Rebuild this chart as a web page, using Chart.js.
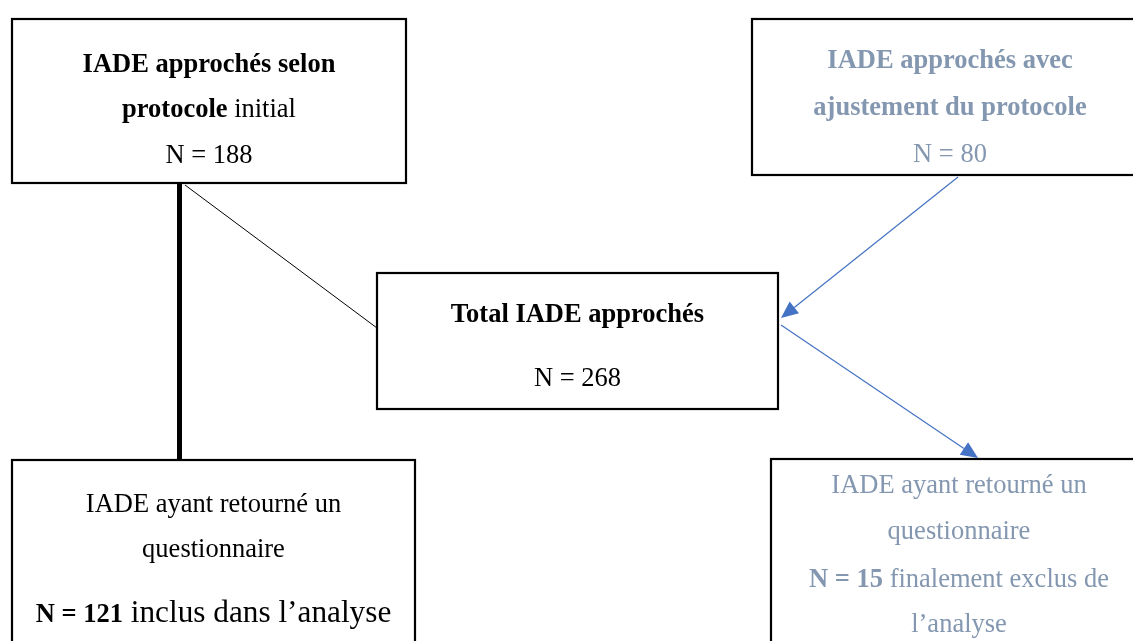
<!DOCTYPE html>
<html>
<head>
<meta charset="utf-8">
<script src="https://cdn.jsdelivr.net/npm/chart.js@4"></script>
<style>
  body { margin: 0; background: #fff; }
  #flow { display: block; }
</style>
</head>
<body>
<canvas id="flow" width="1133" height="641"></canvas>
<script>
// flowchart content
const nodeIds = ['initial', 'ajuste', 'total', 'inclus', 'exclus'];
const nodeCounts = [188, 80, 268, 121, 15];
const nodeLabels = [
    [[['IADE approchés selon', true]], [['protocole', true], [' initial', false]], [['N = ' + nodeCounts[0], false]]],
    [[['IADE approchés avec', true]], [['ajustement du protocole', true]], [['N = ' + nodeCounts[1], false]]],
    [[['Total IADE approchés', true]], [['N = ' + nodeCounts[2], false]]],
    [[['IADE ayant retourné un', false]], [['questionnaire', false]], [['N = ' + nodeCounts[3], true], [' inclus dans l’analyse', false, 1.18]]],
    [[['IADE ayant retourné un', false]], [['questionnaire', false]], [['N = ' + nodeCounts[4], true], [' finalement exclus de', false]], [['l’analyse', false]]]
];
// links between nodes: [from, to, kind]
const links = [
    ['initial', 'inclus', 'thick'],
    ['initial', 'total', 'thin'],
    ['ajuste', 'total', 'arrow'],
    ['total', 'exclus', 'arrow']
];

// layout (in axis units, 0..1133 x 0..641)
const layout = {
    initial: { x: 12, y: 19, w: 394, h: 164, lines: [72, 117, 163], color: '#000' },
    ajuste:  { x: 752, y: 19, w: 396, h: 156, lines: [68, 115, 162], color: '#8497b0' },
    total:   { x: 377, y: 273, w: 401, h: 136, lines: [322, 386], color: '#000' },
    inclus:  { x: 12, y: 460, w: 403, h: 200, lines: [512, 557, 622], color: '#000' },
    exclus:  { x: 771, y: 459, w: 376, h: 200, lines: [493, 539, 587, 632], color: '#8497b0' }
};
const linkPaths = {
    'initial-inclus': [[179.5, 183], [179.5, 460]],
    'initial-total': [[185, 185], [377, 328]],
    'ajuste-total': [[958, 177], [781, 318]],
    'total-exclus': [[781, 325], [978, 458]]
};

const fontSize = 26.5;
const fontFamily = '"Liberation Serif", "Times New Roman", serif';

function fontFor(bold, scale) {
    return (bold ? 'bold ' : '') + (fontSize * (scale || 1)) + 'px ' + fontFamily;
}

const flowPlugin = {
    id: 'flow',
    afterDraw(chart) {
        const ctx = chart.ctx;
        const xs = chart.scales.x, ys = chart.scales.y;
        const px = v => xs.getPixelForValue(v);
        const py = v => ys.getPixelForValue(v);
        ctx.save();

        // connectors
        links.forEach(([from, to, kind]) => {
            const p = linkPaths[from + '-' + to];
            const x1 = px(p[0][0]), y1 = py(p[0][1]), x2 = px(p[1][0]), y2 = py(p[1][1]);
            ctx.beginPath();
            if (kind === 'thick') {
                ctx.strokeStyle = '#000';
                ctx.lineWidth = 5;
            } else if (kind === 'thin') {
                ctx.strokeStyle = '#000';
                ctx.lineWidth = 1;
            } else {
                ctx.strokeStyle = '#4472c4';
                ctx.lineWidth = 1.2;
            }
            ctx.moveTo(x1, y1);
            if (kind === 'arrow') {
                const a = Math.atan2(y2 - y1, x2 - x1);
                const len = 17, half = 7.5;
                const bx = x2 - len * Math.cos(a), by = y2 - len * Math.sin(a);
                ctx.lineTo(bx, by);
                ctx.stroke();
                ctx.beginPath();
                ctx.fillStyle = '#4472c4';
                ctx.moveTo(x2, y2);
                ctx.lineTo(bx + half * Math.sin(a), by - half * Math.cos(a));
                ctx.lineTo(bx - half * Math.sin(a), by + half * Math.cos(a));
                ctx.closePath();
                ctx.fill();
            } else {
                ctx.lineTo(x2, y2);
                ctx.stroke();
            }
        });

        // boxes and labels
        nodeIds.forEach((id, i) => {
            const b = layout[id];
            const left = px(b.x), top = py(b.y), right = px(b.x + b.w), bottom = py(b.y + b.h);
            ctx.fillStyle = '#fff';
            ctx.fillRect(left, top, right - left, bottom - top);
            ctx.strokeStyle = '#000';
            ctx.lineWidth = 2.2;
            ctx.strokeRect(left, top, right - left, bottom - top);

            const cx = (left + right) / 2;
            ctx.fillStyle = b.color;
            ctx.textBaseline = 'alphabetic';
            ctx.textAlign = 'left';
            nodeLabels[i].forEach((runs, j) => {
                let total = 0;
                runs.forEach(r => {
                    ctx.font = fontFor(r[1], r[2]);
                    total += ctx.measureText(r[0]).width;
                });
                let x = cx - total / 2;
                const y = py(b.lines[j]);
                runs.forEach(r => {
                    ctx.font = fontFor(r[1], r[2]);
                    ctx.fillText(r[0], x, y);
                    x += ctx.measureText(r[0]).width;
                });
            });
        });
        ctx.restore();
    }
};

new Chart(document.getElementById('flow').getContext('2d'), {
    type: 'scatter',
    data: { datasets: [{ data: [] }] },
    options: {
        responsive: false,
        animation: false,
        events: [],
        layout: { padding: 0 },
        plugins: { legend: { display: false }, tooltip: { enabled: false } },
        scales: {
            x: { type: 'linear', min: 0, max: 1133, display: false },
            y: { type: 'linear', min: 0, max: 641, reverse: true, display: false }
        }
    },
    plugins: [flowPlugin]
});
</script>
</body>
</html>
